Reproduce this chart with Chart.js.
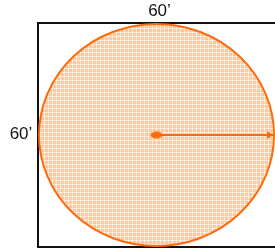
<!DOCTYPE html>
<html>
<head>
<meta charset="utf-8">
<script src="https://cdn.jsdelivr.net/npm/chart.js@4/dist/chart.umd.min.js"></script>
<style>
  html, body { margin: 0; padding: 0; background: #fff; overflow: hidden; }
</style>
</head>
<body>
<canvas id="plotChart" width="275" height="250"></canvas>
<script>
// plot size in feet: width (top label), height (left label)
const sideLabels = ['60\u2019', '60\u2019'];
const sideFeet = [60, 60];
// center of the circle and the radius arrow, in feet
const centerX = [0];
const centerY = [0];
const arrowX = [0, 30];
const arrowY = [0, 0];

const orange = '#ff6a0d';

function makePattern(ctx) {
  const tile = document.createElement('canvas');
  tile.width = 4; tile.height = 4;
  const t = tile.getContext('2d');
  t.fillStyle = '#fdc8a2';
  t.fillRect(0, 0, 4, 4);
  t.fillStyle = '#fee6d5';
  t.fillRect(0, 0, 4, 1);
  t.fillRect(0, 0, 1, 4);
  t.fillStyle = '#ffffff';
  t.fillRect(0, 0, 1, 1);
  return ctx.createPattern(tile, 'repeat');
}

// flat orange dot used as the center marker
const dot = document.createElement('canvas');
dot.width = 14; dot.height = 9;
(function () {
  const d = dot.getContext('2d');
  d.fillStyle = orange;
  d.beginPath();
  d.ellipse(7, 4.5, 6, 3.6, 0, 0, Math.PI * 2);
  d.fill();
})();

const plotPlugin = {
  id: 'plotPlugin',
  beforeDatasetsDraw(chart) {
    const { ctx, chartArea, scales } = chart;
    const x = scales.x, y = scales.y;
    const cx = x.getPixelForValue(centerX[0]);
    const cy = y.getPixelForValue(centerY[0]);
    const rx = x.getPixelForValue(sideFeet[0] / 2) - cx;
    const ry = cy - y.getPixelForValue(sideFeet[1] / 2);
    ctx.save();
    // plot outline
    ctx.strokeStyle = '#111';
    ctx.lineWidth = 2;
    ctx.beginPath();
    ctx.moveTo(chartArea.right + 4, chartArea.top);
    ctx.lineTo(chartArea.left, chartArea.top);
    ctx.lineTo(chartArea.left, chartArea.bottom);
    ctx.lineTo(chartArea.right + 4, chartArea.bottom);
    ctx.stroke();
    // circle
    ctx.beginPath();
    ctx.ellipse(cx, cy, rx - 1, ry - 1, 0, 0, Math.PI * 2);
    ctx.fillStyle = makePattern(ctx);
    ctx.fill();
    ctx.strokeStyle = orange;
    ctx.lineWidth = 2;
    ctx.stroke();
    // labels
    ctx.fillStyle = '#111';
    ctx.font = '17px "Liberation Sans", Arial, sans-serif';
    ctx.textAlign = 'center';
    ctx.textBaseline = 'middle';
    ctx.fillText(sideLabels[0], (chartArea.left + chartArea.right) / 2 + 3, 11);
    ctx.fillText(sideLabels[1], 21, cy - 1);
    ctx.restore();
  },
  afterDatasetsDraw(chart) {
    // arrowhead with its tip on the end of the radius line
    const { ctx } = chart;
    const pts = chart.getDatasetMeta(0).data;
    const end = pts[pts.length - 1];
    const tx = end.x - 2, ty = end.y;
    ctx.save();
    ctx.fillStyle = orange;
    ctx.beginPath();
    ctx.moveTo(tx, ty);
    ctx.lineTo(tx - 6, ty - 4);
    ctx.lineTo(tx - 6, ty + 4);
    ctx.closePath();
    ctx.fill();
    ctx.restore();
  }
};

new Chart(document.getElementById('plotChart'), {
  type: 'scatter',
  data: {
    datasets: [
      {
        data: arrowX.map((v, i) => ({ x: v, y: arrowY[i] })),
        showLine: true,
        clip: false,
        borderColor: orange,
        borderWidth: 2,
        pointRadius: 0
      },
      {
        data: centerX.map((v, i) => ({ x: v, y: centerY[i] })),
        clip: false,
        pointStyle: dot
      }
    ]
  },
  options: {
    responsive: false,
    animation: false,
    layout: { autoPadding: false, padding: { left: 38, top: 23, right: 0, bottom: 3 } },
    plugins: { legend: { display: false }, tooltip: { enabled: false } },
    scales: {
      x: { type: 'linear', min: -30, max: 30, display: false },
      y: { type: 'linear', min: -30, max: 30, display: false }
    }
  },
  plugins: [plotPlugin]
});
</script>
</body>
</html>
